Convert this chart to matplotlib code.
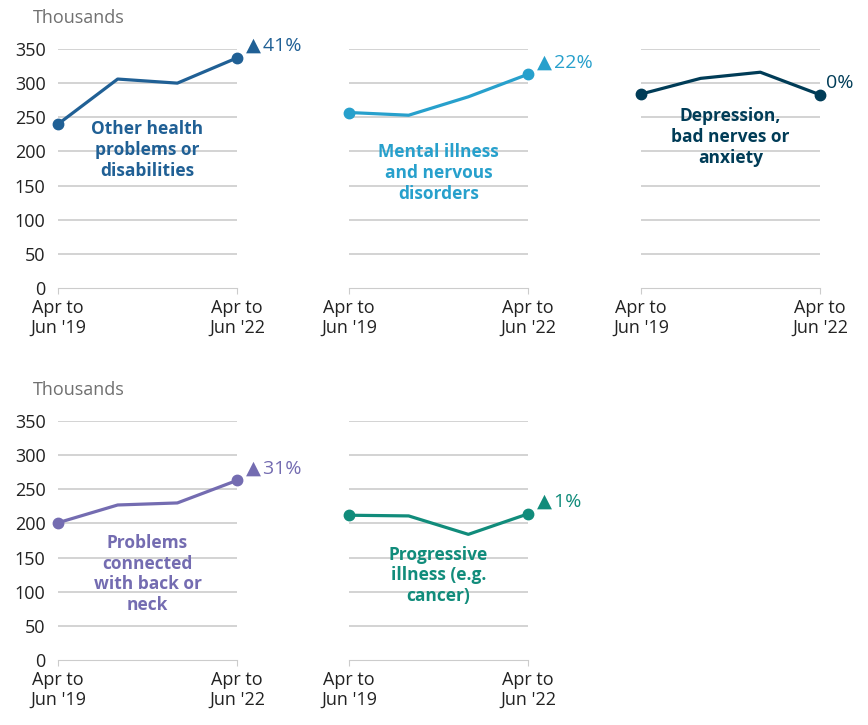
import matplotlib
matplotlib.use('Agg')
import matplotlib.pyplot as plt

plt.rcParams['font.family'] = ['Open Sans', 'DejaVu Sans']
plt.rcParams['font.size'] = 13

# --- Data (thousands) ---
years = [2019, 2020, 2021, 2022]
x_labels = ["Apr to\nJun '19", "Apr to\nJun '22"]

other_health = [240, 306, 300, 337]
mental_illness = [257, 253, 280, 313]
depression = [284, 307, 316, 283]
back_neck = [201, 227, 230, 263]
progressive = [212, 211, 184, 214]

panels = [
    ("Other health\nproblems or\ndisabilities", other_health, '#206095', "\u25B2\u200a41%", 202),
    ("Mental illness\nand nervous\ndisorders", mental_illness, '#27a0cc', "\u25B2\u200a22%", 168),
    ("Depression,\nbad nerves or\nanxiety", depression, '#003c57', "0%", 221),
    ("Problems\nconnected\nwith back or\nneck", back_neck, '#746cb1', "\u25B2\u200a31%", 126),
    ("Progressive\nillness (e.g.\ncancer)", progressive, '#118c7b', "\u25B2\u200a1%", 124),
]

fig = plt.figure(figsize=(8.68, 7.25), dpi=100)

lefts = [58 / 868, 349 / 868, 641 / 868]
bottoms = [1 - 288 / 725, 1 - 660 / 725]
w = 179 / 868
h = 239 / 725

for i, (name, vals, color, change, label_y) in enumerate(panels):
    row, col = divmod(i, 3)
    ax = fig.add_axes([lefts[col], bottoms[row], w, h])

    ax.plot(years, vals, color=color, lw=2.3, clip_on=False, zorder=3)
    ax.plot([years[0], years[-1]], [vals[0], vals[-1]], 'o', color=color,
            markersize=7.5, clip_on=False, zorder=4)

    ax.set_xlim(years[0], years[-1])
    ax.set_ylim(0, 350)
    ax.set_yticks(range(0, 351, 50))
    ax.set_xticks([years[0], years[-1]])
    ax.set_xticklabels(x_labels, color='#222222', linespacing=1.15)

    for s in ['top', 'right', 'left']:
        ax.spines[s].set_visible(False)
    ax.spines['bottom'].set_color('#cccccc')
    ax.spines['bottom'].set_linewidth(0.8)

    ax.grid(axis='y', color='#cccccc', lw=1.2)
    ax.yaxis.get_gridlines()[0].set_visible(False)
    ax.set_axisbelow(True)

    ax.tick_params(axis='x', length=4, color='#cccccc', width=0.8, pad=4)
    ax.tick_params(axis='y', length=0, pad=9, labelcolor='#222222')
    if col != 0:
        ax.set_yticklabels([])
    else:
        ax.text(-25 / 179, 1.0 + 31 / 239, "Thousands", transform=ax.transAxes,
                color='#707070', fontsize=13, va='center', ha='left')

    ax.text(2020.5, label_y, name, color=color, fontweight='bold', fontsize=12.5,
            ha='center', va='center', linespacing=1.2)

    dx = 6 if change == "0%" else 9
    ax.annotate(change, xy=(years[-1], vals[-1]), xytext=(dx, 12),
                textcoords='offset pixels', color=color, fontsize=14,
                ha='left', va='center', annotation_clip=False)

fig.savefig('out.png', dpi=100)
